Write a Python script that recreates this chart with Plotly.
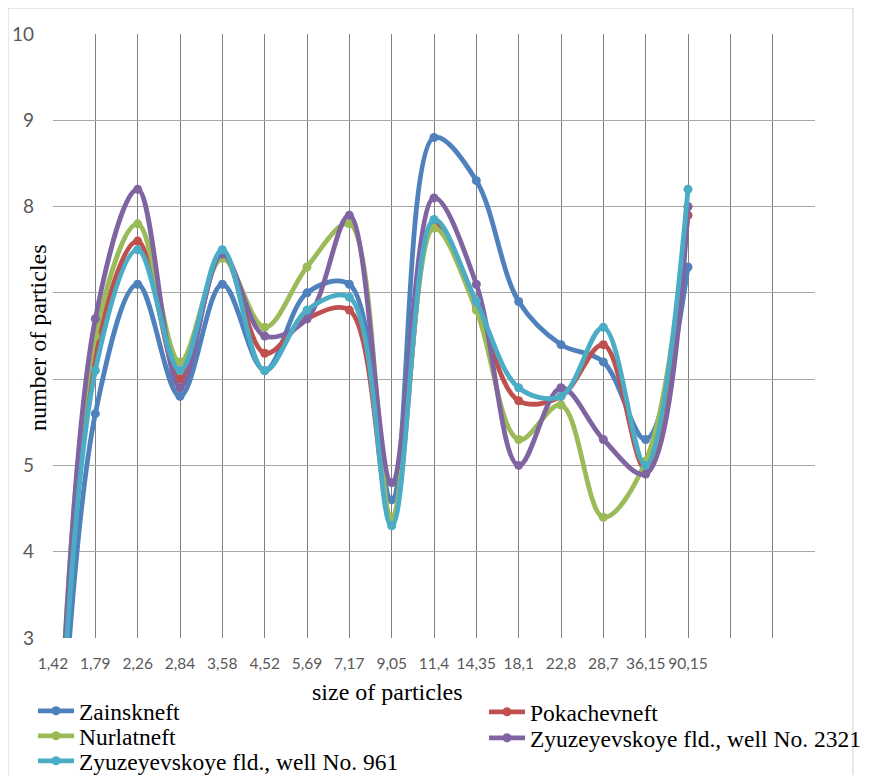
import plotly.graph_objects as go

# ---------------- data ----------------
categories = ["1,42", "1,79", "2,26", "2,84", "3,58", "4,52", "5,69", "7,17",
              "9,05", "11,4", "14,35", "18,1", "22,8", "28,7", "36,15", "90,15"]
empty_slots = ["", "", ""]  # empty category slots at the right of the axis

zainskneft   = [0.0, 5.6, 7.1, 5.8, 7.1, 6.1, 7.0, 7.1, 4.6, 8.8, 8.3, 6.9, 6.4, 6.2, 5.3, 7.3]
pokachevneft = [0.0, 6.3, 7.6, 6.0, 7.45, 6.3, 6.7, 6.8, 4.4, 7.8, 6.85, 5.75, 5.8, 6.4, 4.95, 7.9]
nurlatneft   = [0.0, 6.5, 7.8, 6.2, 7.4, 6.6, 7.3, 7.8, 4.4, 7.75, 6.8, 5.3, 5.7, 4.4, 5.05, 8.0]
well_2321    = [0.0, 6.7, 8.2, 5.9, 7.45, 6.5, 6.7, 7.9, 4.8, 8.1, 7.1, 5.0, 5.9, 5.3, 4.9, 8.0]
well_961     = [0.0, 6.1, 7.5, 6.1, 7.5, 6.1, 6.8, 6.95, 4.3, 7.85, 6.9, 5.9, 5.8, 6.6, 5.0, 8.2]

series_names = ["Zainskneft", "Pokachevneft", "Nurlatneft",
                "Zyuzeyevskoye fld., well No. 2321", "Zyuzeyevskoye fld., well No. 961"]
series_values = [zainskneft, pokachevneft, nurlatneft, well_2321, well_961]
colors = ["#4F81BD", "#C0504D", "#9BBB59", "#8064A2", "#4BACC6"]

y_ticks = [3, 4, 5, 6, 7, 8, 9, 10]

# ---------------- layout helpers (page pixel coords; page has an 8px body margin) ----------------
OFF = 8
W, H = 874 - OFF, 775 - OFF
PL, PR, PT, PB = 53, 815, 34, 638          # plot area in page pixels
L, T = PL - OFF, PT - OFF
pw, ph = PR - PL, PB - PT
R, B = W - L - pw, H - T - ph


def px_x(p):
    return (p - PL) / pw


def px_y(p):
    return (PB - p) / ph


serif = "Liberation Serif, Times New Roman, serif"
sans = "Lato, Open Sans, sans-serif"

legend_ids = ["legend", "legend2", "legend3", "legend4", "legend5"]
legend_pos = [(33, 711), (484, 712), (33, 736), (484, 738), (33, 761)]

x_idx = list(range(len(categories)))
all_ticktext = categories + empty_slots
all_tickvals = list(range(len(all_ticktext)))

fig = go.Figure()
for name, vals, col, lid in zip(series_names, series_values, colors, legend_ids):
    fig.add_trace(go.Scatter(
        x=x_idx, y=vals, name=name, mode="lines+markers", legend=lid,
        line=dict(color=col, width=4.8, shape="spline", smoothing=1.0),
        marker=dict(color=col, size=9, symbol="circle"),
    ))

legend_layout = {}
for lid, (lx, ly) in zip(legend_ids, legend_pos):
    legend_layout[lid] = dict(
        x=px_x(lx), y=px_y(ly), xanchor="left", yanchor="middle",
        itemwidth=36, font=dict(family=serif, size=23.5, color="black"),
        bgcolor="rgba(0,0,0,0)", borderwidth=0,
    )

fig.update_layout(
    width=W, height=H,
    margin=dict(l=L, r=R, t=T, b=B, autoexpand=False),
    paper_bgcolor="white", plot_bgcolor="white",
    showlegend=True,
    xaxis=dict(
        range=[0, len(all_ticktext) - 1], tickvals=all_tickvals, ticktext=all_ticktext,
        showgrid=True, gridcolor="#7F7F7F", gridwidth=1.3,
        zeroline=False, showline=False, ticks="",
        tickfont=dict(family=sans, size=15.5, color="#595959"),
        ticklabelstandoff=14,
    ),
    yaxis=dict(
        range=[3, 10], tickvals=y_ticks,
        showgrid=True, gridcolor="#A6A6A6", gridwidth=1.2,
        zeroline=False, showline=False, ticks="",
        tickfont=dict(family=sans, size=19, color="#595959"),
        ticklabelstandoff=18,
    ),
    annotations=[
        dict(text="number of particles", textangle=-90, xref="paper", yref="paper",
             x=px_x(38), y=px_y(338), xanchor="center", yanchor="middle", showarrow=False,
             font=dict(family=serif, size=24, color="black"), bgcolor="white"),
        dict(text="size of particles", xref="paper", yref="paper",
             x=px_x(387), y=px_y(692), xanchor="center", yanchor="middle", showarrow=False,
             font=dict(family=serif, size=24, color="black")),
    ],
    shapes=[
        dict(type="rect", xref="paper", yref="paper",
             x0=px_x(8), x1=px_x(853), y0=px_y(800), y1=px_y(8),
             line=dict(color="#D0D0D0", width=1), layer="below"),
    ],
    **legend_layout,
)

fig.write_html("out.html")
